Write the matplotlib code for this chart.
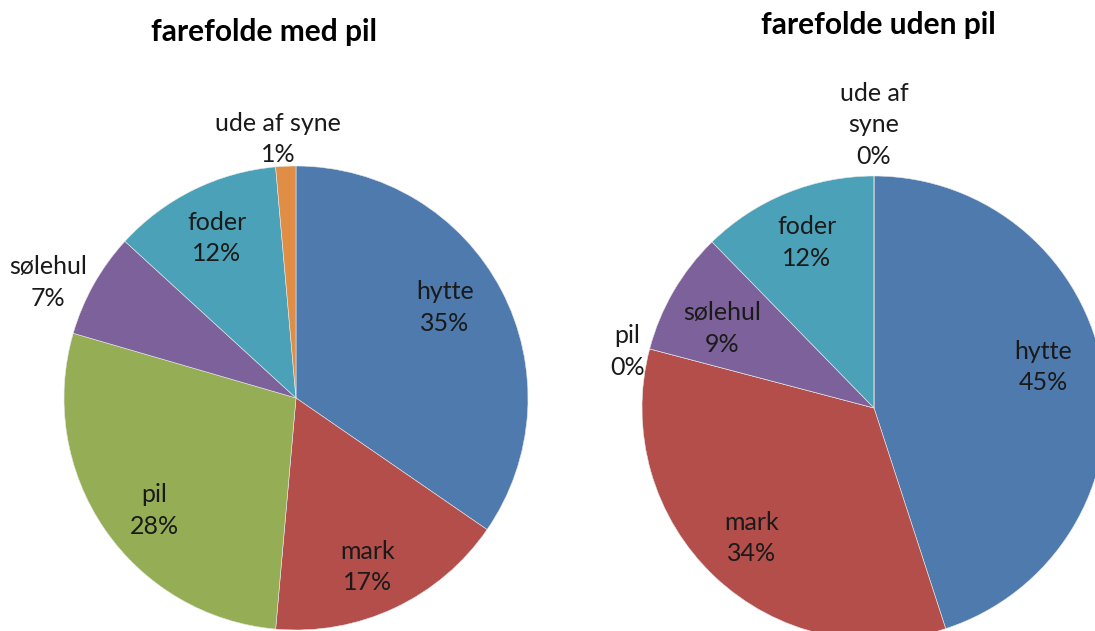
import numpy as np
import matplotlib
matplotlib.use("Agg")
import matplotlib.pyplot as plt

# data (procent)
kategorier = ["hytte", "mark", "pil", "sølehul", "foder", "ude af syne"]
med_pil = [34.6, 16.8, 28.1, 7.3, 11.8, 1.4]
uden_pil = [45.0, 34.1, 0.0, 8.6, 12.3, 0.0]

farver = ["#4E7AAE", "#B34E4B", "#95AE56", "#7D619A", "#4BA2B8", "#E08E45"]

plt.rcParams["font.family"] = ["Lato", "DejaVu Sans"]

W, H = 1095, 631
fig = plt.figure(figsize=(W / 100, H / 100), dpi=100)
fig.patch.set_facecolor("white")

R = 232


def tegn_pie(cx, cy, values, names, dists, skub, titel, tx, ty):
    ax = fig.add_axes([(cx - R) / W, (H - cy - R) / H, 2 * R / W, 2 * R / H])
    wedges, _ = ax.pie(values, colors=farver, startangle=90, counterclock=False,
                       radius=1, wedgeprops=dict(edgecolor="#e8e8e8", linewidth=0.4))
    ax.set_xlim(-1, 1)
    ax.set_ylim(-1, 1)
    ax.axis("off")
    # etiketter: afstand fra centrum + lille vinkeljustering (grader)
    for w, name, v, d, s in zip(wedges, names, values, dists, skub):
        ang = np.deg2rad((w.theta1 + w.theta2) / 2 + s)
        ax.text(d * np.cos(ang), d * np.sin(ang), f"{name}\n{round(v):d}%",
                ha="center", va="center", fontsize=18, color="#1a1a1a",
                linespacing=1.45)
    fig.text(tx / W, 1 - ty / H, titel, ha="center", va="center",
             fontsize=21.5, fontweight="bold", color="black")
    return ax


tegn_pie(296, 398, med_pil, kategorier,
         [0.75, 0.79, 0.78, 1.18, 0.77, 1.12],
         [3.6, -2.3, 4.1, 4.4, 0, 1.5],
         "farefolde med pil", 264, 32)
tegn_pie(874, 408, uden_pil,
         ["hytte", "mark", "pil", "sølehul", "foder", "ude af\nsyne"],
         [0.75, 0.77, 1.09, 0.74, 0.77, 1.22],
         [4.7, 0, 1.8, 2.7, 0, 0],
         "farefolde uden pil", 878, 25)

fig.savefig("out.png", dpi=100, facecolor="white")
